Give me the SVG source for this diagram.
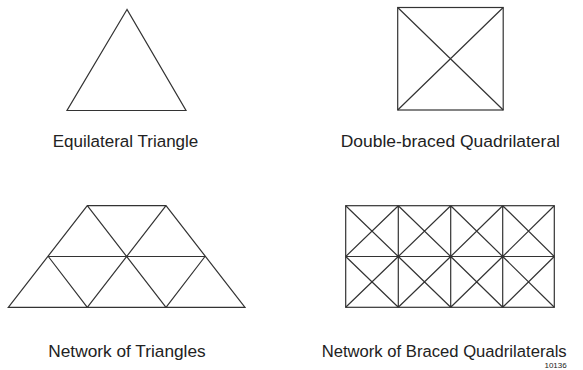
<svg xmlns="http://www.w3.org/2000/svg" width="583" height="370" viewBox="0 0 583 370">
<style>
.s{fill:none;stroke:#333;stroke-width:1.2;stroke-linejoin:miter}
.t{font-family:"Liberation Sans",Arial,sans-serif;font-size:16.8px;fill:#222}
.n{font-family:"Liberation Sans",Arial,sans-serif;font-size:8px;fill:#222}
</style>
<rect width="583" height="370" fill="#fff"/>
<g id="equilateral-triangle">
<polygon class="s" points="127,9.5 67,110.5 186,110.5"/>
<text class="t" x="52.7" y="146.7" textLength="145.6" lengthAdjust="spacingAndGlyphs">Equilateral Triangle</text>
</g>
<g id="double-braced-quadrilateral">
<rect class="s" x="397.7" y="7.5" width="105.5" height="102.5"/>
<path class="s" d="M397.7,7.5L503.2,110M503.2,7.5L397.7,110"/>
<text class="t" x="340.7" y="146.7" textLength="219.3" lengthAdjust="spacingAndGlyphs">Double-braced Quadrilateral</text>
</g>
<g id="network-of-triangles">
<path class="s" d="M87.3,205.7H166L245,307.3H8.3Z M48.3,256.5H205 M87.3,205.7L166,307.3 M166,205.7L87.3,307.3 M48.3,256.5L87.3,307.3 M205,256.5L166,307.3"/>
<text class="t" x="48.3" y="356.7" textLength="157.4" lengthAdjust="spacingAndGlyphs">Network of Triangles</text>
</g>
<g id="network-of-braced-quadrilaterals">
<rect class="s" x="345.7" y="205.7" width="208.6" height="101.6"/>
<path class="s" d="M345.7,256.5H554.3 M398.3,205.7V307.3 M450.7,205.7V307.3 M502.7,205.7V307.3
M345.7,205.7L398.3,256.5M398.3,205.7L345.7,256.5
M398.3,205.7L450.7,256.5M450.7,205.7L398.3,256.5
M450.7,205.7L502.7,256.5M502.7,205.7L450.7,256.5
M502.7,205.7L554.3,256.5M554.3,205.7L502.7,256.5
M345.7,256.5L398.3,307.3M398.3,256.5L345.7,307.3
M398.3,256.5L450.7,307.3M450.7,256.5L398.3,307.3
M450.7,256.5L502.7,307.3M502.7,256.5L450.7,307.3
M502.7,256.5L554.3,307.3M554.3,256.5L502.7,307.3"/>
<text class="t" x="321.7" y="356.7" textLength="245" lengthAdjust="spacingAndGlyphs">Network of Braced Quadrilaterals</text>
<text class="n" x="566.7" y="368" text-anchor="end">10136</text>
</g>
</svg>
